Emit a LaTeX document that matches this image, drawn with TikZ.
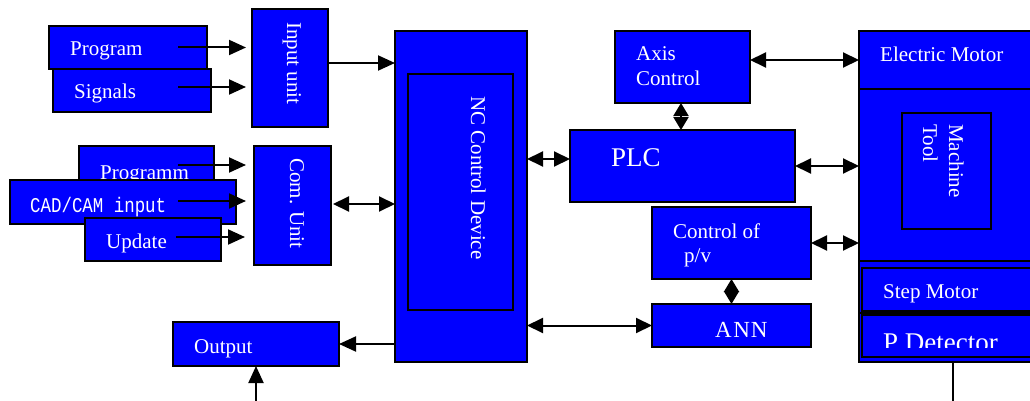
\documentclass[tikz,border=0pt]{standalone}
\usepackage{fontspec}
\setmainfont{Liberation Serif}
\newfontfamily\monof[FakeStretch=0.83]{Liberation Mono}
\usetikzlibrary{arrows.meta}
\begin{document}
\begin{tikzpicture}[x=1pt,y=-1pt,
  box/.style={draw=black, line width=1.5pt, fill=blue, anchor=north west, inner sep=0pt, outer sep=0pt},
  lbl/.style={text=white, inner sep=0pt, anchor=base west, font=\fontsize{21}{24}\selectfont},
  vlbl/.style={lbl, rotate=-90},
  bline/.style={draw=black, line width=1.5pt},
  arr/.style={line width=2pt, -{Triangle[length=17pt,width=15pt]}},
  darr/.style={line width=2pt, {Triangle[length=16pt,width=15pt]}-{Triangle[length=16pt,width=15pt]}},
  diam/.style={line width=2pt, {Triangle[length=13pt,width=15pt]}-{Triangle[length=13pt,width=15pt]}}
]
\useasboundingbox (0,0) rectangle (1030,401);

% left inputs
\node[box, minimum width=158pt, minimum height=43pt] (prog1) at (49,26) {};
\node[box, minimum width=158pt, minimum height=43pt] (sig) at (53,69) {};
\node[lbl] (tprog1) at (70,56) {Program};
\node[lbl] (tsig) at (74,99) {Signals};
\node[box, minimum width=76pt, minimum height=118pt] (inunit) at (252,9) {};
\node[vlbl] (tinunit) at (287,22) {Input unit};

\node[box, minimum width=135pt, minimum height=40pt] (prog2) at (79,146) {};
\node[lbl] (tprog2) at (100,179) {Programm};
\node[box, minimum width=226pt, minimum height=44pt] (cad) at (10,180) {};
\node[lbl, font=\monof\fontsize{21}{24}\selectfont] (tcad) at (30,212) {CAD/CAM input};
\node[box, minimum width=136pt, minimum height=43pt] (upd) at (85,218) {};
\node[lbl] (tupd) at (106,248) {Update};
\node[box, minimum width=77pt, minimum height=119pt] (com) at (254,146) {};
\node[vlbl] (tcom) at (290,158) {Com. Unit};

\node[box, minimum width=166pt, minimum height=44pt] (out) at (173,322) {};
\node[lbl] (tout) at (194,353) {Output};

% NC
\node[box, minimum width=132pt, minimum height=331pt] (nc) at (395,31) {};
\node[box, minimum width=105pt, minimum height=236pt] (ncin) at (408,74) {};
\node[vlbl] (tnc) at (471,96) {NC Control Device};

% middle
\node[box, minimum width=135pt, minimum height=72pt] (axis) at (615,31) {};
\node[lbl] (taxis1) at (636,61) {Axis};
\node[lbl] (taxis2) at (636,86) {Control};
\node[box, minimum width=225pt, minimum height=72pt] (plc) at (570,130) {};
\node[lbl, font=\fontsize{27}{30}\selectfont] (tplc) at (611,166) {PLC};
\node[box, minimum width=159pt, minimum height=72pt] (cpv) at (652,207) {};
\node[lbl] (tcpv1) at (673,238) {Control of};
\node[lbl] (tcpv2) at (684,262) {p/v};
\node[box, minimum width=159pt, minimum height=43pt] (ann) at (652,304) {};
\node[lbl, font=\fontsize{23}{26}\selectfont] (tann) at (715,337) {A\kern1.5pt N\kern1pt N};

% right block
\node[box, minimum width=176pt, minimum height=331pt] (mach) at (859,31) {};
\draw[bline] (859,89) -- (1035,89);
\draw[bline] (859,261) -- (1035,261);
\draw[bline] (859,313) -- (1035,313);
\node[lbl] (tem) at (880,62) {Electric Motor};
\node[box, minimum width=89pt, minimum height=116pt] (mtool) at (902,113) {};
\node[vlbl] (tmach) at (949,124) {Machine};
\node[vlbl] (ttool) at (923,124) {Tool};
\node[box, minimum width=173pt, minimum height=43pt] (step) at (862,268) {};
\node[lbl] (tstep) at (883,298) {Step Motor};
\node[box, minimum width=173pt, minimum height=42pt] (pdet) at (862,315) {};
\begin{scope}
\clip (860,300) rectangle (1035,347);
\node[lbl, font=\fontsize{27}{30}\selectfont] (tpdet) at (883,351) {P Detector};
\end{scope}

% connectors
\coordinate (a1) at ([xshift=-29pt]prog1.east);
\draw[arr, shorten >=6pt] (a1) -- (a1 -| inunit.west);
\coordinate (a2) at ([shift={(-33,-3.5)}]sig.east);
\draw[arr, shorten >=6pt] (a2) -- (a2 -| inunit.west);
\coordinate (a3) at ([shift={(0,-5)}]inunit.east);
\draw[arr] (a3) -- (a3 -| nc.west);
\coordinate (a4) at ([shift={(-36,-1)}]prog2.east);
\draw[arr, shorten >=8pt] (a4) -- (a4 -| com.west);
\coordinate (a5) at ([shift={(-58,-1)}]cad.east);
\draw[arr, shorten >=8pt] (a5) -- (a5 -| com.west);
\coordinate (a6) at ([shift={(-45,-2.5)}]upd.east);
\draw[arr, shorten >=9pt] (a6) -- (a6 -| com.west);
\coordinate (a7) at ([shift={(2,-1.5)}]com.east);
\draw[darr] (a7) -- (a7 -| nc.west);
\draw[arr] (out.east -| nc.west) -- (out.east);
\coordinate (b0) at (256,401);
\draw[arr] (b0) -- (b0 |- out.south);
\coordinate (a10) at ([shift={(0,-7)}]plc.west);
\draw[darr] (a10 -| nc.east) -- (a10);
\coordinate (a11) at ([xshift=-1.5pt]axis.south);
\draw[diam] (a11) -- (a11 |- plc.north);
\coordinate (a12) at ([shift={(0,-7)}]axis.east);
\draw[darr] (a12) -- (a12 -| mach.west);
\draw[darr] (plc.east) -- (plc.east -| mach.west);
\draw[darr] (cpv.east) -- (cpv.east -| mach.west);
\draw[diam] (cpv.south) -- (cpv.south |- ann.north);
\draw[darr] (ann.west -| nc.east) -- (ann.west);
\coordinate (b1) at (953,401);
\draw[line width=1.5pt] (b1 |- mach.south) -- (b1);
\end{tikzpicture}
\end{document}
